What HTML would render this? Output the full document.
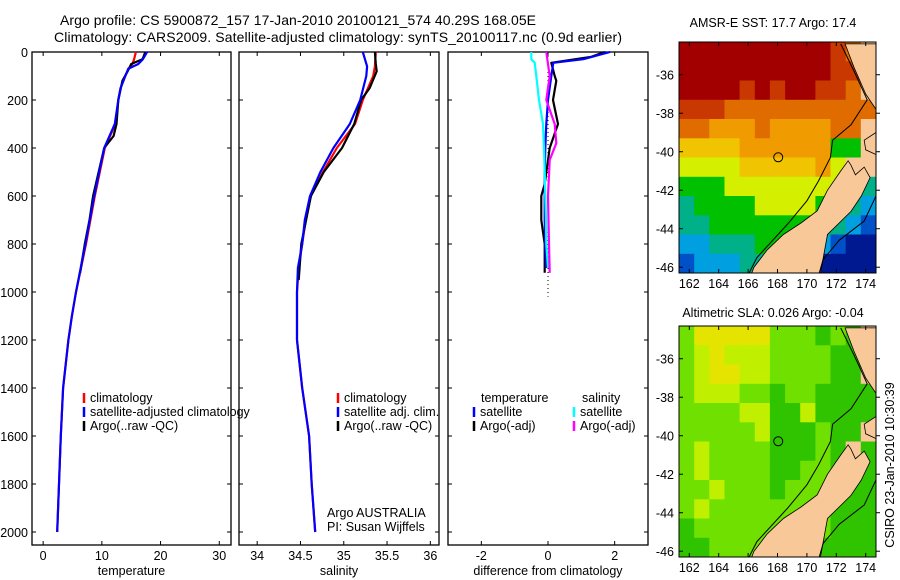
<!DOCTYPE html>
<html><head><meta charset="utf-8"><style>
html,body{margin:0;padding:0;background:#fff;}
svg{display:block;font-family:"Liberation Sans",sans-serif;}
</style></head><body>
<svg id="fig" width="900" height="580" viewBox="0 0 900 580">
<text x="298" y="25" font-size="14" text-anchor="middle" textLength="476">Argo profile: CS 5900872_157 17-Jan-2010 20100121_574 40.29S 168.05E</text>
<text x="338" y="42" font-size="14" text-anchor="middle" textLength="568">Climatology: CARS2009. Satellite-adjusted climatology: synTS_20100117.nc (0.9d earlier)</text>
<text x="773" y="27" font-size="12.5" text-anchor="middle">AMSR-E SST: 17.7 Argo: 17.4</text>
<text x="773" y="317" font-size="12.5" text-anchor="middle">Altimetric SLA: 0.026 Argo: -0.04</text>
<text transform="translate(894,465) rotate(-90)" font-size="12.5" text-anchor="middle">CSIRO 23-Jan-2010 10:30:39</text>
<g id="plots"></g>
</svg>
<script>
// ---- profile data (depth in m) ----
const tDepth   = [0, 30, 50, 70, 100, 150, 200, 300, 400, 600, 800, 1000, 1100, 1200, 1400, 1600, 1800, 2000];
const tSat     = [17.7, 17.0, 16.2, 14.5, 14.0, 13.2, 12.8, 12.2, 10.4, 8.7, 7.2, 5.6, 4.9, 4.3, 3.4, 3.0, 2.7, 2.4];
const tClim    = [15.8, 15.5, 15.2, 14.5, 14.0, 13.2, 12.8, 12.3, 10.5, 8.8, 7.3, 5.6, 4.9, 4.3, 3.4, 3.0, 2.7, 2.4];
const aDepth   = [0, 20, 30, 50, 80, 120, 200, 300, 350, 400, 600, 700, 800, 920];
const tArgo    = [17.4, 17.1, 16.9, 15.0, 14.4, 13.5, 12.8, 12.5, 12.0, 10.4, 8.5, 7.9, 7.1, 6.3];
const sDepth   = [0, 60, 100, 200, 300, 400, 500, 600, 700, 800, 900, 1000, 1200, 1400, 1600, 1800, 2000];
const sSat     = [35.22, 35.27, 35.26, 35.19, 35.07, 34.88, 34.73, 34.61, 34.55, 34.52, 34.47, 34.46, 34.46, 34.52, 34.60, 34.63, 34.67];
const sClim    = [35.37, 35.36, 35.34, 35.22, 35.13, 34.92, 34.76, 34.62, 34.56, 34.52, 34.48, 34.46, 34.46, 34.52, 34.60, 34.63, 34.67];
const saDepth  = [0, 50, 80, 150, 200, 300, 400, 500, 600, 800, 950];
const sArgo    = [35.36, 35.37, 35.38, 35.30, 35.20, 35.12, 34.98, 34.77, 34.62, 34.51, 34.48];
// differences
const dDepth   = [0, 30, 45, 100, 200, 300, 400, 500, 600, 700, 800, 900];
const dTSat    = [1.86, 1.06, 0.16, 0.10, 0.0, -0.05, -0.08, -0.1, -0.1, -0.1, -0.08, -0.05];
const dTArgoD  = [0, 20, 45, 100, 120, 200, 300, 400, 550, 600, 700, 800, 920];
const dTArgo   = [1.7, 1.3, 0.1, 0.2, 0.25, 0.15, 0.3, 0.05, -0.1, -0.2, -0.2, -0.1, -0.1];
const dSSat    = [-0.5, -0.5, -0.4, -0.35, -0.27, -0.15, -0.12, -0.1, -0.08, -0.06, -0.05, 0.0];
const dSArgoD  = [0, 100, 200, 300, 380, 450, 600, 800, 920];
const dSArgo   = [-0.05, 0.05, -0.05, 0.2, 0.25, 0.05, 0.0, 0.03, 0.05];
const depthTicks = [0, 200, 400, 600, 800, 1000, 1200, 1400, 1600, 1800, 2000];
const tTicks = [0, 10, 20, 30];
const sTicks = [34, 34.5, 35, 35.5, 36];
const dTicks = [-2, 0, 2];
// ---- map data: colour codes per ~1 degree cell, rows north->south ----
const sstRows = ["RRRRRRRRRRrOL","RRRRRRRRRRrrL","RRRRrRrRRrrOL","rrrOOOOOOOOOO","OOoooOooooOOL","YYYYooooooGGL","yyyyYYYYYoyLL","GGGyyyyyyyyyt","tGGGGyyyyGGtc","ttGGGGGGGGtcb","cctttGGGGcbBB","bccctttcBBBBB"];
const slaRows = ["gYYYYYgggGgGL","gyYyyyggggGGL","gyYYyyggggGGL","gyyyggGggGGGG","ggggyyGGyGGGG","gggggyGGGgGGL","gyggggGGGgGLG","gyggggGGggGGG","ggygggGgggGGG","gyggggggggGGG","GgggggggggGGG","GGgggggGGGGGG"];
const sstPal = {R:"#a20000",r:"#c83800",O:"#e06c00",o:"#f09c00",Y:"#f0c400",y:"#d4f000",g:"#90e000",G:"#00c000",t:"#00b088",c:"#00a0e0",b:"#0050c8",B:"#001890",L:"#f8c898"};
const slaPal = {G:"#30c400",g:"#70e000",y:"#c0f000",Y:"#e4e400",L:"#f8c898"};
const southIsland = [[172.8,-40.47],[172.3,-41.0],[171.4,-42.0],[170.7,-43.07],[169.6,-43.7],[168.4,-44.3],[167.3,-45.1],[166.4,-46.0],[166.2,-46.4],[170.9,-46.4],[171.4,-44.3],[173.0,-43.1],[173.7,-42.3],[174.3,-41.35],[173.9,-40.8],[173.3,-41.2],[173.0,-40.7]];
const northIsland1 = [[172.6,-34.4],[174.7,-34.4],[174.7,-37.8],[174.0,-37.0],[173.2,-35.6]];
const northIsland2 = [[174.7,-39.0],[173.9,-39.4],[174.0,-39.9],[174.7,-40.15]];
const contour = [[172.3,-34.4],[173.2,-35.8],[174.1,-37.3],[173.0,-38.6],[171.75,-39.4],[171.6,-40.3],[170.8,-41.5],[170.0,-42.55],[168.7,-43.75],[166.6,-45.5],[166.0,-46.4]];
const contourE = [[174.7,-42.3],[173.9,-43.6],[172.2,-44.6],[171.1,-45.6],[170.8,-46.4]];
const argoPos = [168.05, -40.29];
const lonTicks = [162,164,166,168,170,172,174];
const latTicks = [-36,-38,-40,-42,-44,-46];

const NS="http://www.w3.org/2000/svg";
const root=document.getElementById('plots');
function mk(tag,attrs,parent){const e=document.createElementNS(NS,tag);for(const k in attrs)e.setAttribute(k,attrs[k]);(parent||root).appendChild(e);return e;}

const Y0=52, YS=0.24, PB=545;
const yD=d=>Y0+d*YS;
function panel(name,x0,x1,vmin,vmax){
  const g=mk('g',{});
  
  
  return {g,x0,x1,fx:v=>x0+(v-vmin)/(vmax-vmin)*(x1-x0)};
}
function frame(p,xt,xtLabels,xlabel,yLabels){
  const r=mk('rect',{x:p.x0,y:Y0,width:p.x1-p.x0,height:PB-Y0,fill:'none',stroke:'#000','stroke-width':1.3},p.g);
  
  
  xt.forEach((v,i)=>{const x=p.fx(v);
    mk('line',{x1:x,y1:PB,x2:x,y2:PB-4,stroke:'#000'},p.g);
    mk('line',{x1:x,y1:Y0,x2:x,y2:Y0+4,stroke:'#000'},p.g);
    const t=mk('text',{x:x,y:PB+15,'font-size':12.5,'text-anchor':'middle'},p.g);t.textContent=xtLabels[i];
    
    
  });
  depthTicks.forEach(d=>{const y=yD(d);
    mk('line',{x1:p.x0,y1:y,x2:p.x0+4,y2:y,stroke:'#000'},p.g);
    mk('line',{x1:p.x1,y1:y,x2:p.x1-4,y2:y,stroke:'#000'},p.g);
    if(yLabels){const t=mk('text',{x:28,y:y+5,'font-size':12.5,'text-anchor':'end'},p.g);t.textContent=d;
      
      }
  });
  const xl=mk('text',{x:(p.x0+p.x1)/2,y:575,'font-size':12.5,'text-anchor':'middle'},p.g);xl.textContent=xlabel;
  
  
}
function line(p,ds,vs,col,name,w){
  const pts=ds.map((d,i)=>p.fx(vs[i]).toFixed(1)+','+yD(d).toFixed(1)).join(' ');
  const l=mk('polyline',{points:pts,fill:'none',stroke:col,'stroke-width':w||2.2,'stroke-linejoin':'round'},p.g);
  
  
}
function legend(p,x,y,col,label,name){
  if(col) mk('line',{x1:x,y1:y-9,x2:x,y2:y+1,stroke:col,'stroke-width':2.5},p.g);
  const t=mk('text',{x:x+6,y:y,'font-size':12.5},p.g);t.textContent=label;
  
  
}
// panel 1 temperature
const p1=panel('temperature-panel',32,231,-1.9,32);
frame(p1,tTicks,tTicks.map(String),'temperature',true);
line(p1,tDepth,tClim,'#f00','climatology-temp-line');
line(p1,aDepth,tArgo,'#000','argo-temp-line');
line(p1,tDepth,tSat,'#00f','satellite-temp-line');
legend(p1,84,402,'#f00','climatology','legend-climatology');
legend(p1,84,416,'#00f','satellite-adjusted climatology','legend-satellite');
legend(p1,84,430,'#000','Argo(..raw -QC)','legend-argo');
// panel 2 salinity
const p2=panel('salinity-panel',239,439,33.79,36.1);
frame(p2,sTicks,['34','34.5','35','35.5','36'],'salinity',false);
line(p2,sDepth,sClim,'#f00','climatology-sal-line');
line(p2,saDepth,sArgo,'#000','argo-sal-line');
line(p2,sDepth,sSat,'#00f','satellite-sal-line');
legend(p2,338,402,'#f00','climatology','legend-climatology');
legend(p2,338,416,'#00f','satellite adj. clim.','legend-satellite');
legend(p2,338,430,'#000','Argo(..raw -QC)','legend-argo');
legend(p2,321,517,null,'Argo AUSTRALIA','argo-australia-label');
legend(p2,321,531,null,'PI: Susan Wijffels','pi-label');
// panel 3 differences
const p3=panel('difference-panel',448,648,-3.0,3.0);
frame(p3,dTicks,['-2','0','2'],'difference from climatology',false);
const z=mk('line',{x1:p3.fx(0),y1:Y0,x2:p3.fx(0),y2:yD(1020),stroke:'#000','stroke-dasharray':'1,3'},p3.g);


line(p3,dTArgoD,dTArgo,'#000','argo-temp-diff-line');
line(p3,dDepth,dTSat,'#00f','satellite-temp-diff-line');
line(p3,dDepth,dSSat,'#0ff','satellite-sal-diff-line');
line(p3,dSArgoD,dSArgo,'#f0f','argo-sal-diff-line');
legend(p3,475,402,null,'temperature','legend-temperature-heading');
legend(p3,474,416,'#00f','satellite','legend-temp-satellite');
legend(p3,474,430,'#000','Argo(-adj)','legend-temp-argo');
legend(p3,576,402,null,'salinity','legend-salinity-heading');
legend(p3,574,416,'#0ff','satellite','legend-sal-satellite');
legend(p3,574,430,'#f0f','Argo(-adj)','legend-sal-argo');

// maps
function map(name,top,rows,pal){
  const g=mk('g',{});
  
  
  const X0=679,X1=876,H=231,LON0=161.3,LON1=174.7,LAT0=-34.3;
  const sy=19.25;
  const px=lon=>X0+(lon-LON0)/(LON1-LON0)*(X1-X0);
  const py=lat=>top+(LAT0-lat)*sy;
  const LAT1=LAT0-H/sy;
  const nr=rows.length,nc=rows[0].length;
  const cw=(X1-X0)/nc,ch=H/nr;
  const cg=mk('g',{'clip-path':'url(#clip-'+name+')'},g);
  const cp=mk('clipPath',{id:'clip-'+name},g);mk('rect',{x:X0,y:top,width:X1-X0,height:H},cp);
  rows.forEach((r,i)=>{for(let j=0;j<nc;j++){
    const c=mk('rect',{x:(X0+j*cw).toFixed(1),y:(top+i*ch).toFixed(1),width:(cw+0.5).toFixed(1),height:(ch+0.5).toFixed(1),fill:pal[r[j]]},cg);
    
    
  }});
  const P=a=>a.map(q=>px(q[0]).toFixed(1)+','+py(q[1]).toFixed(1)).join(' ');
  [southIsland,northIsland1,northIsland2].forEach(poly=>{
    const l=mk('polygon',{points:P(poly),fill:'#f8c898',stroke:'#000','stroke-width':0.8},cg);
    
    
  });
  [contour,contourE].forEach(c=>{
    const l=mk('polyline',{points:P(c),fill:'none',stroke:'#000','stroke-width':1},cg);
    
    
  });
  const ci=mk('circle',{cx:px(argoPos[0]),cy:py(argoPos[1]),r:4.5,fill:'none',stroke:'#000','stroke-width':1},g);
  
  
  mk('rect',{x:X0,y:top,width:X1-X0,height:H,fill:'none',stroke:'#000','stroke-width':1},g);
  lonTicks.forEach(l=>{const x=px(l);
    mk('line',{x1:x,y1:top,x2:x,y2:top+4,stroke:'#000'},g);
    mk('line',{x1:x,y1:top+H,x2:x,y2:top+H-4,stroke:'#000'},g);
    const t=mk('text',{x:x,y:top+H+15,'font-size':12.5,'text-anchor':'middle'},g);t.textContent=l;
    
    
  });
  latTicks.forEach(l=>{const y=py(l);
    mk('line',{x1:X0,y1:y,x2:X0+4,y2:y,stroke:'#000'},g);
    mk('line',{x1:X1,y1:y,x2:X1+4,y2:y,stroke:'#000'},g);
    const t=mk('text',{x:X0-5,y:y+5,'font-size':12.5,'text-anchor':'end'},g);t.textContent=l;
    
    
  });
}
map('sst-map',42,sstRows,sstPal);
map('sla-map',326,slaRows,slaPal);
</script>
</body></html>
